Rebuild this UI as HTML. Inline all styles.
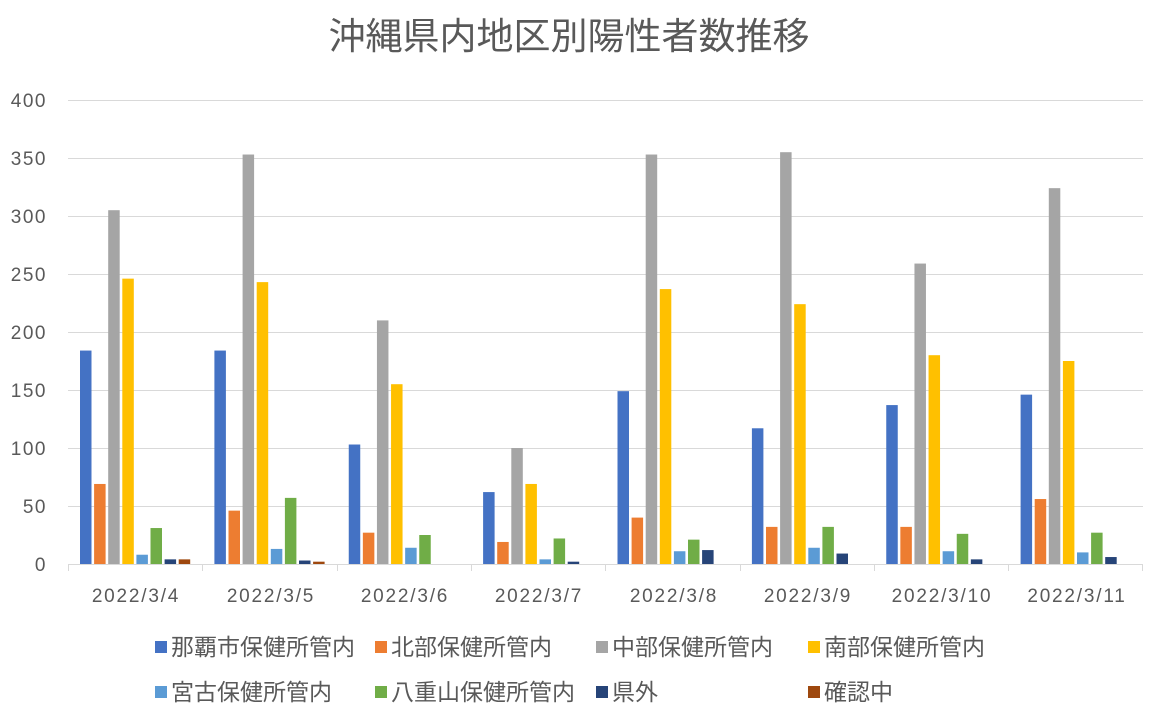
<!DOCTYPE html>
<html><head><meta charset="utf-8"><style>
body{margin:0;background:#fff}
svg text{font-family:"Liberation Sans","Noto Sans CJK JP",sans-serif;fill:#595959}
</style></head><body>
<svg width="1157" height="717" viewBox="0 0 1157 717" xmlns="http://www.w3.org/2000/svg">
<rect width="1157" height="717" fill="#fff"/>
<text x="569" y="49" font-size="37" text-anchor="middle">沖縄県内地区別陽性者数推移</text>
<g stroke="#d9d9d9" stroke-width="1">
<line x1="68" x2="1143" y1="100.5" y2="100.5"/><line x1="68" x2="1143" y1="158.5" y2="158.5"/>
<line x1="68" x2="1143" y1="216.5" y2="216.5"/><line x1="68" x2="1143" y1="274.5" y2="274.5"/>
<line x1="68" x2="1143" y1="332.5" y2="332.5"/><line x1="68" x2="1143" y1="390.5" y2="390.5"/>
<line x1="68" x2="1143" y1="448.5" y2="448.5"/><line x1="68" x2="1143" y1="506.5" y2="506.5"/>
<line x1="68" x2="1143" y1="564.5" y2="564.5"/>
<line x1="68.5" x2="68.5" y1="564" y2="571"/><line x1="202.5" x2="202.5" y1="564" y2="571"/>
<line x1="337.5" x2="337.5" y1="564" y2="571"/><line x1="471.5" x2="471.5" y1="564" y2="571"/>
<line x1="605.5" x2="605.5" y1="564" y2="571"/><line x1="740.5" x2="740.5" y1="564" y2="571"/>
<line x1="874.5" x2="874.5" y1="564" y2="571"/><line x1="1008.5" x2="1008.5" y1="564" y2="571"/>
<line x1="1142.5" x2="1142.5" y1="564" y2="571"/>
</g>
<g font-size="19" text-anchor="end" letter-spacing="1.5">
<text x="47" y="107">400</text><text x="47" y="165">350</text><text x="47" y="223">300</text>
<text x="47" y="281">250</text><text x="47" y="339">200</text><text x="47" y="397">150</text>
<text x="47" y="455">100</text><text x="47" y="513">50</text><text x="47" y="571">0</text>
</g>
<g transform="translate(80,564) scale(1,-1.16)">
<rect x="0" y="0" width="11.5" height="184" fill="#4472C4"/><rect x="14.1" y="0" width="11.5" height="69" fill="#ED7D31"/><rect x="28.2" y="0" width="11.5" height="305" fill="#A5A5A5"/><rect x="42.3" y="0" width="11.5" height="246" fill="#FFC000"/><rect x="56.4" y="0" width="11.5" height="8" fill="#5B9BD5"/><rect x="70.5" y="0" width="11.5" height="31" fill="#70AD47"/><rect x="84.6" y="0" width="11.5" height="4" fill="#264478"/><rect x="98.7" y="0" width="11.5" height="4" fill="#9E480E"/>
</g>
<g transform="translate(214.4,564) scale(1,-1.16)">
<rect x="0" y="0" width="11.5" height="184" fill="#4472C4"/><rect x="14.1" y="0" width="11.5" height="46" fill="#ED7D31"/><rect x="28.2" y="0" width="11.5" height="353" fill="#A5A5A5"/><rect x="42.3" y="0" width="11.5" height="243" fill="#FFC000"/><rect x="56.4" y="0" width="11.5" height="13" fill="#5B9BD5"/><rect x="70.5" y="0" width="11.5" height="57" fill="#70AD47"/><rect x="84.6" y="0" width="11.5" height="3" fill="#264478"/><rect x="98.7" y="0" width="11.5" height="2" fill="#9E480E"/>
</g>
<g transform="translate(348.75,564) scale(1,-1.16)">
<rect x="0" y="0" width="11.5" height="103" fill="#4472C4"/><rect x="14.1" y="0" width="11.5" height="27" fill="#ED7D31"/><rect x="28.2" y="0" width="11.5" height="210" fill="#A5A5A5"/><rect x="42.3" y="0" width="11.5" height="155" fill="#FFC000"/><rect x="56.4" y="0" width="11.5" height="14" fill="#5B9BD5"/><rect x="70.5" y="0" width="11.5" height="25" fill="#70AD47"/>
</g>
<g transform="translate(483.1,564) scale(1,-1.16)">
<rect x="0" y="0" width="11.5" height="62" fill="#4472C4"/><rect x="14.1" y="0" width="11.5" height="19" fill="#ED7D31"/><rect x="28.2" y="0" width="11.5" height="100" fill="#A5A5A5"/><rect x="42.3" y="0" width="11.5" height="69" fill="#FFC000"/><rect x="56.4" y="0" width="11.5" height="4" fill="#5B9BD5"/><rect x="70.5" y="0" width="11.5" height="22" fill="#70AD47"/><rect x="84.6" y="0" width="11.5" height="2" fill="#264478"/>
</g>
<g transform="translate(617.5,564) scale(1,-1.16)">
<rect x="0" y="0" width="11.5" height="149" fill="#4472C4"/><rect x="14.1" y="0" width="11.5" height="40" fill="#ED7D31"/><rect x="28.2" y="0" width="11.5" height="353" fill="#A5A5A5"/><rect x="42.3" y="0" width="11.5" height="237" fill="#FFC000"/><rect x="56.4" y="0" width="11.5" height="11" fill="#5B9BD5"/><rect x="70.5" y="0" width="11.5" height="21" fill="#70AD47"/><rect x="84.6" y="0" width="11.5" height="12" fill="#264478"/>
</g>
<g transform="translate(751.9,564) scale(1,-1.16)">
<rect x="0" y="0" width="11.5" height="117" fill="#4472C4"/><rect x="14.1" y="0" width="11.5" height="32" fill="#ED7D31"/><rect x="28.2" y="0" width="11.5" height="355" fill="#A5A5A5"/><rect x="42.3" y="0" width="11.5" height="224" fill="#FFC000"/><rect x="56.4" y="0" width="11.5" height="14" fill="#5B9BD5"/><rect x="70.5" y="0" width="11.5" height="32" fill="#70AD47"/><rect x="84.6" y="0" width="11.5" height="9" fill="#264478"/>
</g>
<g transform="translate(886.25,564) scale(1,-1.16)">
<rect x="0" y="0" width="11.5" height="137" fill="#4472C4"/><rect x="14.1" y="0" width="11.5" height="32" fill="#ED7D31"/><rect x="28.2" y="0" width="11.5" height="259" fill="#A5A5A5"/><rect x="42.3" y="0" width="11.5" height="180" fill="#FFC000"/><rect x="56.4" y="0" width="11.5" height="11" fill="#5B9BD5"/><rect x="70.5" y="0" width="11.5" height="26" fill="#70AD47"/><rect x="84.6" y="0" width="11.5" height="4" fill="#264478"/>
</g>
<g transform="translate(1020.6,564) scale(1,-1.16)">
<rect x="0" y="0" width="11.5" height="146" fill="#4472C4"/><rect x="14.1" y="0" width="11.5" height="56" fill="#ED7D31"/><rect x="28.2" y="0" width="11.5" height="324" fill="#A5A5A5"/><rect x="42.3" y="0" width="11.5" height="175" fill="#FFC000"/><rect x="56.4" y="0" width="11.5" height="10" fill="#5B9BD5"/><rect x="70.5" y="0" width="11.5" height="27" fill="#70AD47"/><rect x="84.6" y="0" width="11.5" height="6" fill="#264478"/>
</g>
<g font-size="19" text-anchor="middle" letter-spacing="1.8">
<text x="136" y="602">2022/3/4</text><text x="271" y="602">2022/3/5</text><text x="405" y="602">2022/3/6</text><text x="539" y="602">2022/3/7</text>
<text x="674" y="602">2022/3/8</text><text x="808" y="602">2022/3/9</text><text x="942" y="602">2022/3/10</text><text x="1077" y="602">2022/3/11</text>
</g>
<g font-size="23">
<rect x="155" y="641" width="12" height="12" fill="#4472C4"/><text x="171" y="655">那覇市保健所管内</text>
<rect x="375" y="641" width="12" height="12" fill="#ED7D31"/><text x="391" y="655">北部保健所管内</text>
<rect x="596" y="641" width="12" height="12" fill="#A5A5A5"/><text x="612" y="655">中部保健所管内</text>
<rect x="808" y="641" width="12" height="12" fill="#FFC000"/><text x="824" y="655">南部保健所管内</text>
<rect x="155" y="686" width="12" height="12" fill="#5B9BD5"/><text x="171" y="700">宮古保健所管内</text>
<rect x="375" y="686" width="12" height="12" fill="#70AD47"/><text x="391" y="700">八重山保健所管内</text>
<rect x="596" y="686" width="12" height="12" fill="#264478"/><text x="612" y="700">県外</text>
<rect x="808" y="686" width="12" height="12" fill="#9E480E"/><text x="824" y="700">確認中</text>
</g>
</svg>
</body></html>
